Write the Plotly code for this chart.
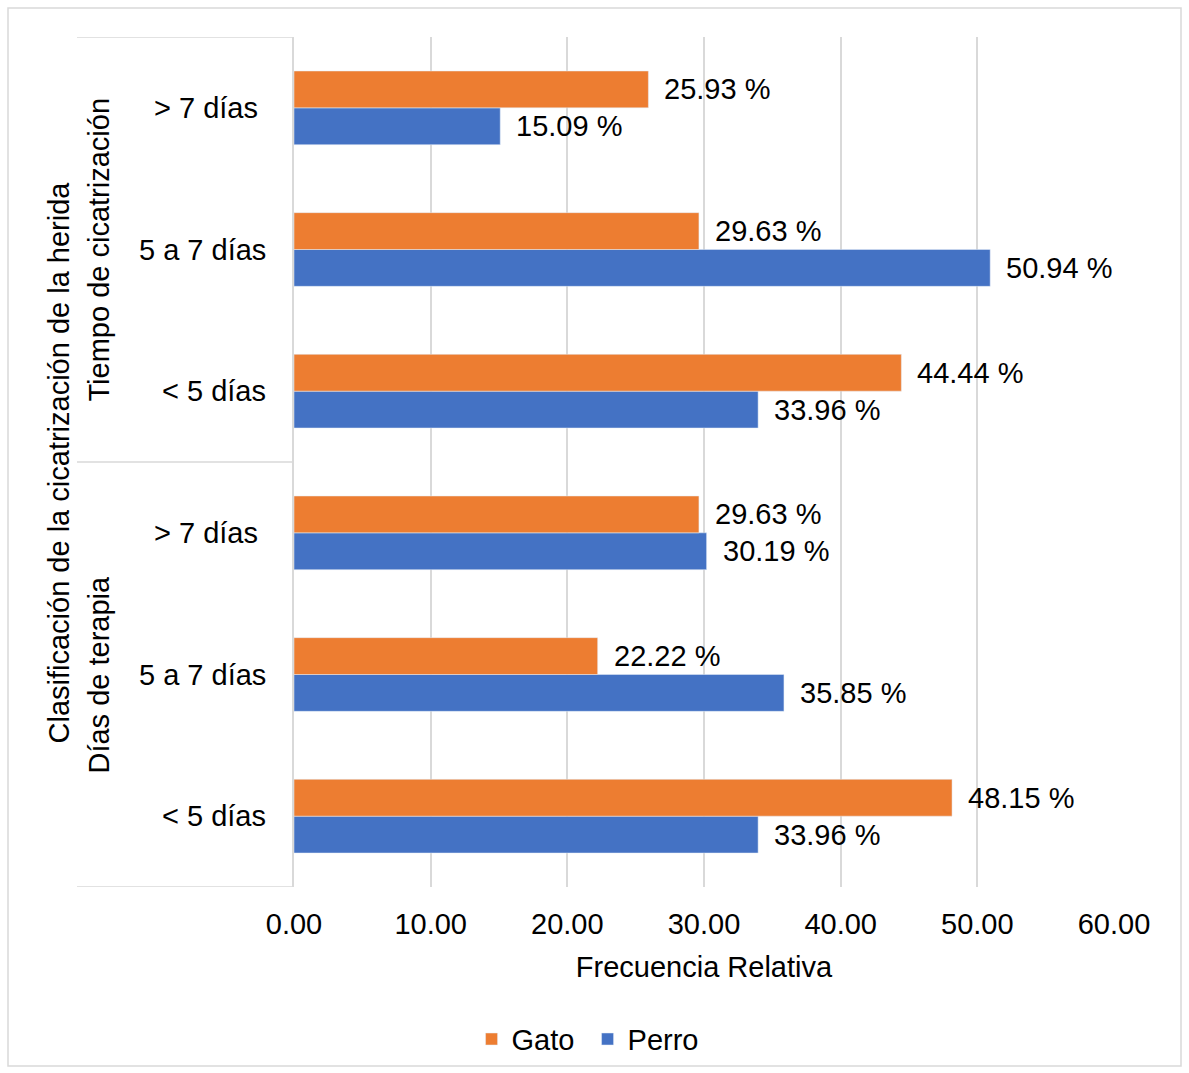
import plotly.graph_objects as go

# Categories from bottom to top (y positions 0..5)
categorias = ["< 5 días", "5 a 7 días", "> 7 días ", "< 5 días", "5 a 7 días", "> 7 días "]
grupos = ["Días de terapia", "Tiempo de cicatrización"]
gato = [48.15, 22.22, 29.63, 44.44, 29.63, 25.93]
perro = [33.96, 35.85, 30.19, 33.96, 50.94, 15.09]
x_ticks = [0, 10, 20, 30, 40, 50, 60]

NARANJA = "#ED7D31"
AZUL = "#4472C4"
GRIS = "#D9D9D9"
FUENTE = "Liberation Sans, Arial, sans-serif"
TAM = 29

pos = list(range(len(categorias)))
ancho = 0.26

fig = go.Figure()
fig.add_trace(go.Bar(y=pos, x=perro, orientation="h", name="Perro",
                     marker_color=AZUL, width=ancho, offset=-ancho, legendrank=2))
fig.add_trace(go.Bar(y=pos, x=gato, orientation="h", name="Gato",
                     marker_color=NARANJA, width=ancho, offset=0, legendrank=1))

anotaciones = []
for i in pos:
    anotaciones.append(dict(x=gato[i], y=i + ancho / 2, text=f"{gato[i]:.2f} %",
                            xanchor="left", yanchor="middle", xshift=14, showarrow=False))
    anotaciones.append(dict(x=perro[i], y=i - ancho / 2, text=f"{perro[i]:.2f} %",
                            xanchor="left", yanchor="middle", xshift=14, showarrow=False))

# Category labels on the left, right-aligned (trailing space kept as in the source labels)
for i, c in enumerate(categorias):
    derecha = 268 - (8 if c.endswith(" ") else 0)
    anotaciones.append(dict(x=(derecha - 294) / 820, xref="paper", y=i, yref="y", text=c.strip(),
                            xanchor="right", yanchor="middle", showarrow=False))

# Group labels (rotated)
anotaciones.append(dict(x=-0.239, xref="paper", y=4, yref="y", text=grupos[1],
                        textangle=-90, xanchor="center", yanchor="middle", showarrow=False))
anotaciones.append(dict(x=-0.239, xref="paper", y=1, yref="y", text=grupos[0],
                        textangle=-90, xanchor="center", yanchor="middle", showarrow=False))
# Axis title
anotaciones.append(dict(x=-0.286, xref="paper", y=2.5, yref="y",
                        text="Clasificación de la cicatrización de la herida",
                        textangle=-90, xanchor="center", yanchor="middle", showarrow=False))

formas = []
x_izq = (77 - 294) / 820
for yv in [5.5, 2.5, -0.5]:
    formas.append(dict(type="line", xref="paper", yref="y", x0=x_izq, x1=0, y0=yv, y1=yv,
                       line=dict(color=GRIS, width=1.5)))
# Outer chart border
formas.append(dict(type="rect", xref="paper", yref="paper",
                   x0=(8 - 294) / 820, x1=(1181 - 294) / 820,
                   y0=(887 - 1066) / 850, y1=1 + (37 - 8) / 850,
                   line=dict(color=GRIS, width=1.5)))

fig.update_layout(
    width=1189, height=1073,
    margin=dict(l=294, r=75, t=37, b=186, autoexpand=False),
    paper_bgcolor="white", plot_bgcolor="white",
    font=dict(family=FUENTE, size=TAM, color="#000000"),
    barmode="overlay",
    showlegend=True,
    legend=dict(orientation="h", x=0.358, xanchor="center", y=-0.179, yanchor="middle",
                font=dict(size=TAM), traceorder="normal", itemwidth=30,
                entrywidth=71, entrywidthmode="pixels"),
    annotations=anotaciones,
    shapes=formas,
    xaxis=dict(range=[0, 60], tickvals=x_ticks, ticktext=[f"{v:.2f}" for v in x_ticks],
               showgrid=True, gridcolor=GRIS, gridwidth=1.5, zeroline=False, showline=False,
               ticks="", ticklabelstandoff=17, automargin=False,
               title=dict(text="Frecuencia Relativa", standoff=17, font=dict(size=TAM))),
    yaxis=dict(range=[-0.5, 5.5], showticklabels=False, showgrid=False, zeroline=False,
               showline=True, linecolor=GRIS, linewidth=1.5, ticks="", automargin=False),
)

fig.write_html("out.html")
